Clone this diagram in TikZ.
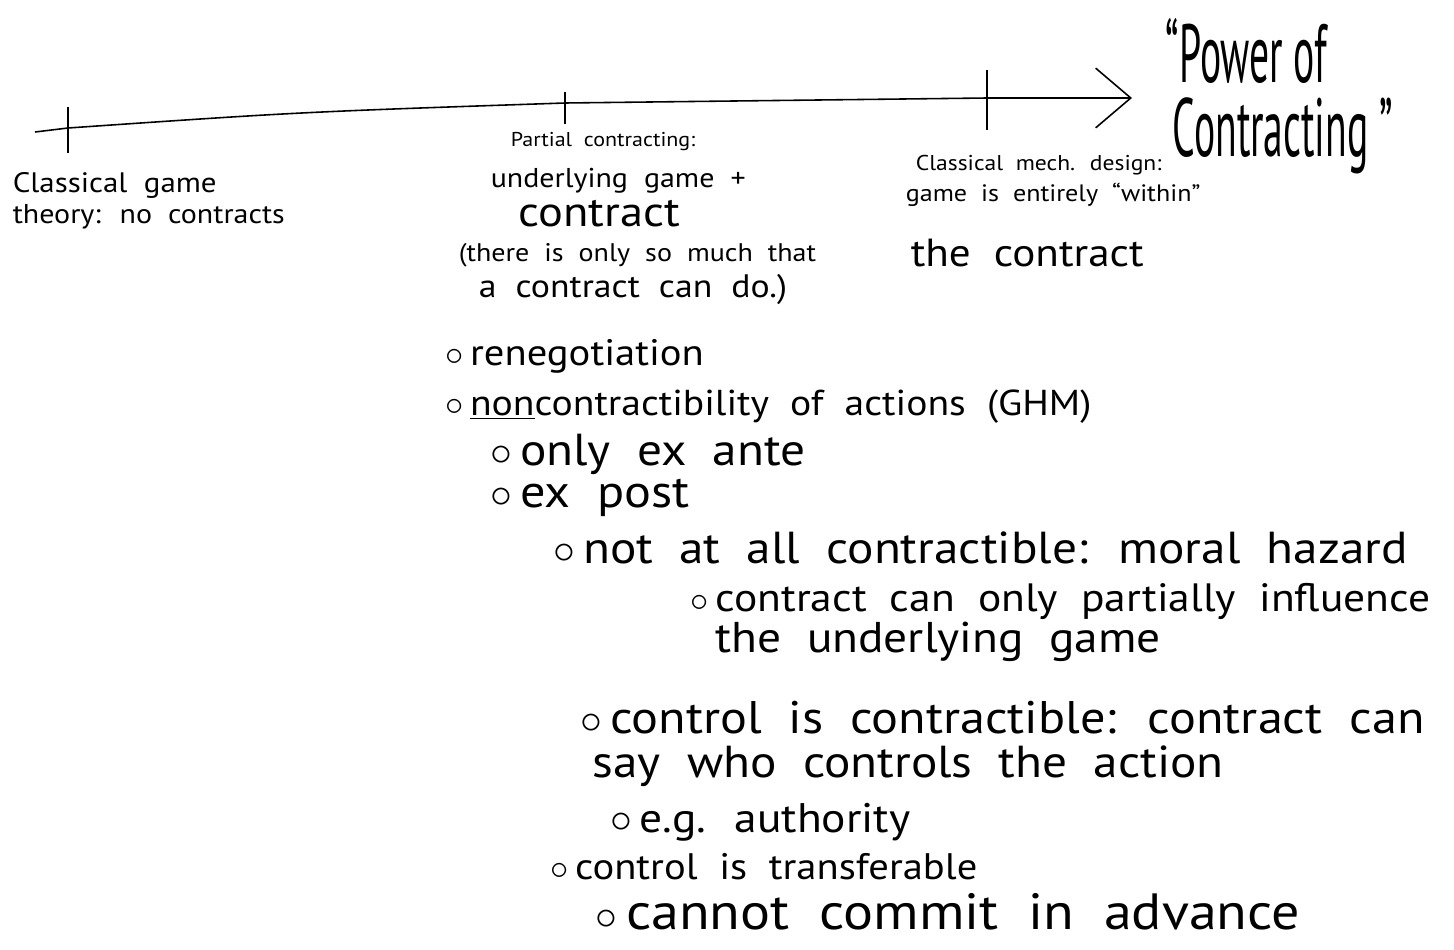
\documentclass[tikz,border=0pt]{standalone}
\usepackage{fontspec}
\setmainfont{PT Sans}[FakeStretch=1.1,WordSpace=2]
\newfontfamily\titlefont{PT Sans}[FakeStretch=0.48]
\usetikzlibrary{arrows.meta}

\begin{document}
\begin{tikzpicture}[x=0.02cm,y=-0.02cm,line width=0.9pt,
  item/.style={anchor=base west,inner sep=0pt,font=\fontsize{#1}{#1}\selectfont},
  title/.style={anchor=base west,inner sep=0pt,font=\titlefont\fontsize{47}{47}\selectfont}]

\useasboundingbox (0,0) rectangle (1454,950);

\coordinate(start) at (35,132);
\coordinate(t1) at (68,128);
\coordinate(t2) at (565,103);
\coordinate(t3) at (987,98);
\coordinate(end) at (1132,98);

\draw[-{Straight Barb[length=20pt,width=34pt]}] (start) -- (t1) .. controls (300,112) .. (t2) -- (t3) -- (end);
\draw ([yshift=12]t1) -- ([yshift=-14]t1);
\draw ([yshift=6]t2) -- ([yshift=-12]t2);
\draw ([yshift=16]t3) -- ([yshift=-18]t3);

\node(classA) at (12,192)[item=16] {Classical game};
\node(classB) at (12,223)[item=15.5] {theory: no contracts};

\node(partA) at (510,146)[item=11.4] {Partial contracting:};
\node(partB) at (490,187)[item=15.5] {underlying game +};
\node(partC) at (518,226)[item=24] {contract};
\node(partD) at (458,261)[item=14.5] {(there is only so much that};
\node(partE) at (478,297)[item=18.5] {a contract can do.)};

\node(mechA) at (915,170)[item=12.2] {Classical mech. design:};
\node(mechB) at (905,201)[item=13.5] {game is entirely “within”};
\node(mechC) at (910,266)[item=22.3] {the contract};

\node(powA) at (1165,82)[title] {“Power of};
\node(powB) at (1172,156)[title] {Contracting ”};

\node(reneg) at (445,365)[item=21] {$\circ$\,renegotiation};
\node(noncon) at (445,415)[item=20.5] {$\circ$\,\underline{non}contractibility of actions (GHM)};
\node(exante) at (490,465)[item=25.5] {$\circ$\,only ex ante};
\node(expost) at (490,507)[item=26] {$\circ$\,ex post};
\node(notall) at (553,563)[item=25.5] {$\circ$\,not at all contractible: moral hazard};
\node(partly) at (690,611)[item=22.5] {$\circ$\,contract can only partially influence};
\node(partly2) at (715,652)[item=24.5] {the underlying game};
\node(ctrl) at (580,733)[item=26] {$\circ$\,control is contractible: contract can};
\node(ctrl2) at (592,777)[item=25.5] {say who controls the action};
\node(eg) at (610,832)[item=23.5] {$\circ$\,e.g. authority};
\node(transf) at (550,879)[item=21] {$\circ$\,control is transferable};
\node(commit) at (595,929)[item=29] {$\circ$\,cannot commit in advance};

\end{tikzpicture}
\end{document}
